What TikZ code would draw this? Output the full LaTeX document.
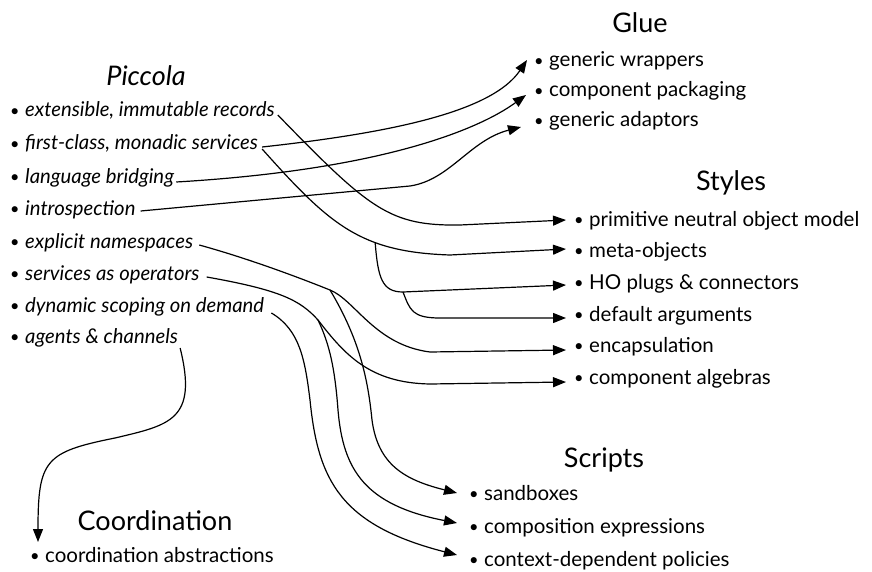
\documentclass[tikz,border=0pt]{standalone}
\usepackage{fontspec}
\setmainfont{Lato}
\usetikzlibrary{arrows.meta}
\newcommand{\bul}{\makebox[15pt][l]{\raisebox{0.5pt}{\scalebox{0.8}{•}}}}
\tikzset{
  ttl/.style={inner sep=0pt, font=\fontsize{27}{31}\selectfont},
  ritem/.style={anchor=west, inner sep=0pt, text height=14pt, text depth=4pt, font=\fontsize{20.5}{24}\selectfont},
  litem/.style={ritem, font=\fontsize{20.3}{24}\selectfont\itshape},
  wire/.style={line width=1.2pt},
  arr/.style={wire, -{Triangle[length=13pt,width=10pt]}}
}
\begin{document}
\begin{tikzpicture}[x=1pt,y=-1pt]
\useasboundingbox (0,0) rectangle (872,572);
% Piccola
\node[ttl, font=\fontsize{27}{31}\selectfont\itshape] (picc) at (146,76) {Piccola};
\node[litem] (ext) at (10,112) {\bul extensible, immutable records};
\node[litem] (fc) at (10,145) {\bul first-class, monadic services};
\node[litem] (lb) at (10,178) {\bul language bridging};
\node[litem] (intro) at (10,210) {\bul introspection};
\node[litem] (ns) at (10,243) {\bul explicit namespaces};
\node[litem] (sao) at (10,275) {\bul services as operators};
\node[litem] (dyn) at (10,307) {\bul dynamic scoping on demand};
\node[litem] (ag) at (10,338) {\bul agents \& channels};
% Glue
\node[ttl] (glue) at (640,23) {Glue};
\node[ritem] (gw) at (534,62) {\bul generic wrappers};
\node[ritem] (cp) at (534,92) {\bul component packaging};
\node[ritem] (ga) at (534,122) {\bul generic adaptors};
% Styles
\node[ttl] (sty) at (731,183) {Styles};
\node[ritem] (pnom) at (574,221) {\bul primitive neutral object model};
\node[ritem] (meta) at (574,252) {\bul meta-objects};
\node[ritem] (ho) at (574,284) {\bul HO plugs \& connectors};
\node[ritem] (def) at (574,316) {\bul default arguments};
\node[ritem] (enc) at (574,347) {\bul encapsulation};
\node[ritem] (alg) at (574,379) {\bul component algebras};
% Scripts
\node[ttl] (scr) at (604,460) {Scripts};
\node[ritem] (sand) at (469,495) {\bul sandboxes};
\node[ritem] (comp) at (469,528) {\bul composition expressions};
\node[ritem] (pol) at (469,561) {\bul context-dependent policies};
% Coordination
\node[ttl] (coord) at (155,521) {Coordination};
\node[ritem] (ca) at (30,557) {\bul coordination abstractions};

% Glue connectors
\draw[arr] ([shift={(4,2)}]fc.east) .. controls (390,133) and (492,112) .. ([shift={(-7,-2)}]gw.west);
\draw[arr] ([shift={(2,4)}]lb.east) .. controls (380,170) and (478,130) .. ([shift={(-8,3)}]cp.west);
\draw[arr] ([shift={(5,1)}]intro.east) -- (410,186) .. controls (450,180) and (470,140) .. ([shift={(-13,5)}]ga.west);
% Styles connectors
\draw[arr] ([shift={(3,3)}]ext.east) .. controls (370,210) and (390,226) .. (460,225) -- ([shift={(-8,-1)}]pnom.west);
\draw[arr] ([shift={(4,4)}]fc.east) .. controls (330,225) and (360,252) .. coordinate[pos=0.66] (j1) (450,255) -- ([shift={(-8,-3)}]meta.west);
\draw[arr] (j1) .. controls (378,278) and (382,292) .. (403,292) coordinate (j2) -- ([shift={(-8,1)}]ho.west);
\draw[arr] (j2) .. controls (410,310) and (412,318) .. (440,318) -- ([shift={(-8,2)}]def.west);
\draw[arr] ([shift={(6,2)}]ns.east) .. controls (250,259) and (300,278) .. (330,290) coordinate (j3) .. controls (355,300) and (375,345) .. (430,352) -- ([shift={(-8,3)}]enc.west);
\draw[arr] ([shift={(7,2)}]sao.east) .. controls (280,290) and (300,300) .. (318,320) coordinate (j4) .. controls (345,355) and (370,383) .. (430,384) -- ([shift={(-8,3)}]alg.west);
% Scripts connectors
\draw[arr] (j3) .. controls (360,340) and (368,380) .. (372,420) .. controls (378,465) and (405,480) .. ([shift={(-12,-2)}]sand.west);
\draw[arr] (j4) .. controls (330,345) and (335,370) .. (338,410) .. controls (343,470) and (365,505) .. ([shift={(-12,-5)}]comp.west);
\draw[arr] ([shift={(7,6)}]dyn.east) .. controls (300,330) and (305,360) .. (310,400) .. controls (318,480) and (340,525) .. ([shift={(-12,-6)}]pol.west);
% Coordination connector
\draw[arr] ([shift={(2,10)}]ag.east) .. controls (198,420) and (170,425) .. (115,438) .. controls (45,452) and (38,460) .. ([shift={(8,-15)}]ca.west);
\end{tikzpicture}
\end{document}
